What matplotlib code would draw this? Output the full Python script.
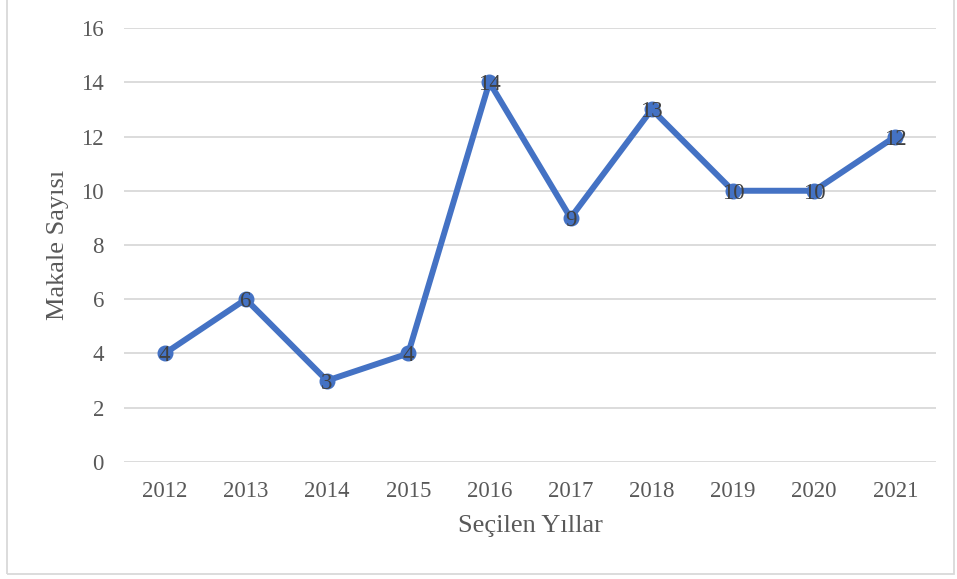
import matplotlib
matplotlib.use('Agg')
import matplotlib.pyplot as plt
from matplotlib.patches import Rectangle

plt.rcParams['font.family'] = ['Liberation Serif', 'DejaVu Serif']

years = ['2012', '2013', '2014', '2015', '2016', '2017', '2018', '2019', '2020', '2021']
counts = [4, 6, 3, 4, 14, 9, 13, 10, 10, 12]

fig = plt.figure(figsize=(9.57, 5.79), dpi=100)
ax = fig.add_axes([0.1296, 0.2021, 0.8484, 0.7495])

x = list(range(len(years)))
ax.plot(x, counts, color='#4472C4', linewidth=4.3, marker='o', markersize=10.5,
        solid_capstyle='round', solid_joinstyle='round', zorder=3)
for xi, v in zip(x, counts):
    ax.text(xi, v, str(v), ha='center', va='center_baseline', fontsize=16.5,
            color='#404040', zorder=4)

ax.set_xlim(-0.5, len(years) - 0.5)
ax.set_ylim(0, 16)
ax.set_yticks(range(0, 17, 2))
ax.set_xticks(x)
ax.set_xticklabels(years)
ax.tick_params(axis='both', length=0, labelsize=16.5, colors='#595959')
ax.tick_params(axis='y', pad=14.5)
ax.tick_params(axis='x', pad=14)
ax.grid(axis='y', color='#D9D9D9', linewidth=1.3)
ax.set_axisbelow(True)
for s in ax.spines.values():
    s.set_visible(False)

ax.set_xlabel('Seçilen Yıllar', fontsize=19, color='#595959', labelpad=9)
ax.set_ylabel('Makale Sayısı', fontsize=19, color='#595959', labelpad=9)

fig.patches.append(Rectangle((7 / 957, 5 / 579), 947 / 957, 578 / 579,
                             transform=fig.transFigure, fill=False,
                             edgecolor='#D9D9D9', linewidth=1.3))

fig.savefig('out.png', dpi=100)
